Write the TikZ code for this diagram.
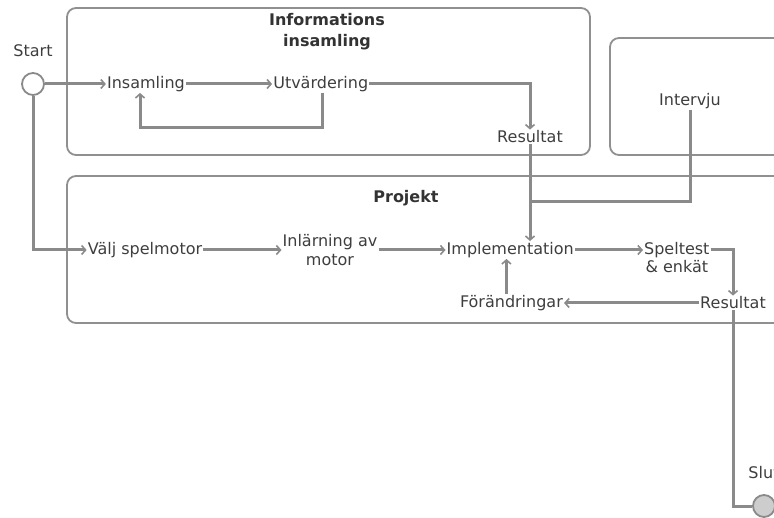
\documentclass[tikz,border=0pt]{standalone}
\usepackage{fontspec}
\setmainfont{DejaVu Sans}
\usetikzlibrary{positioning, arrows.meta}

\definecolor{linegray}{HTML}{8A8A8A}
\definecolor{framegray}{HTML}{909090}
\definecolor{textgray}{HTML}{3E3E3E}
\definecolor{endfill}{HTML}{CDCDCD}

\begin{document}
\begin{tikzpicture}[
    x=1pt, y=-1pt,
    >={Straight Barb[length=4pt,width=9pt,line width=1.6pt]},
    node distance=1cm,
    areabox/.style={
        rectangle,
        draw=framegray,
        line width=1.8pt,
        rounded corners=9pt
    },
    task/.style={
        inner sep=1pt,
        align=center,
        text=textgray,
        font=\fontsize{16}{18.5}\selectfont
    },
    heading/.style={
        align=center,
        text=black!80,
        font=\fontsize{16}{21}\selectfont\bfseries
    },
    startcircle/.style={
        circle,
        draw=linegray,
        line width=1.8pt,
        fill=white,
        minimum size=22pt,
        inner sep=0pt
    },
    endcircle/.style={
        startcircle,
        fill=endfill
    },
    arrow/.style={->, draw=linegray, line width=3pt},
    wire/.style={draw=linegray, line width=3pt}
]

\useasboundingbox (0,0) rectangle (774,518);
\clip (0,0) rectangle (774,518);

% Frames
\node[areabox, minimum width=523pt, minimum height=147pt] (info) at (328.5,81.5) {};
\node[areabox, minimum width=250pt, minimum height=117pt] (intframe) at (735,96.5) {};
\node[areabox, minimum width=793pt, minimum height=147pt] (proj) at (463.5,249.5) {};

\node[heading] (infotitle) at (327,32) {Informations\\insamling};
\node[heading] (projtitle) at (406,198) {Projekt};

% Start
\node[startcircle] (start) at (33,84) {};
\node[task, above=14pt of start] (startlbl) {Start};

% Informations insamling
\node[task] (insam) at (146,84) {Insamling};
\node[task, right=86pt of insam] (utv) {Utvärdering};
\node[task] (res1) at (530,137) {Resultat};

% Intervju
\node[task] (intervju) at (690,101) {Intervju};
\coordinate (join) at (530,202);

% Projekt
\node[task] (valj) at (145,250) {Välj spelmotor};
\node[task] (inlar) at (330,250) {Inlärning av\\motor};
\node[task, right=67pt of inlar] (impl) {Implementation};
\node[task, right=68pt of impl.north east, anchor=north west] (spel) {Speltest\\\& enkät};
\node[task] (res2) at (733,303) {Resultat};
\node[task, left=135pt of res2] (forand) {Förändringar};

% Slut
\node[endcircle] (slut) at (764,506) {};
\node[task, above=14pt of slut] (slutlbl) {Slut};

% Arrows
\draw[arrow] (start) -- (insam);
\draw[arrow] (insam) -- (utv);
\draw[arrow] ([xshift=2pt]utv.south) -- ++(0,35) -| ([xshift=-6pt]insam.south);
\draw[arrow] (utv.east) -| (res1.north);
\draw[arrow] (res1.south) -- (res1.south |- impl.north);
\draw[wire] (intervju.south) |- (join);

\draw[arrow] (start.south) |- (valj.west);
\draw[arrow] (valj) -- (inlar);
\draw[arrow] (inlar) -- (impl);
\draw[arrow] (impl.east) -- (impl.east -| spel.west);
\draw[arrow] (impl.east -| spel.east) -| (res2.north);
\draw[arrow] (res2) -- (forand);
\draw[arrow] ([xshift=-5pt]forand.north) -- ([xshift=-5pt]forand.north |- impl.south);
\draw[wire] (res2.south) |- (slut.west);

\end{tikzpicture}
\end{document}
